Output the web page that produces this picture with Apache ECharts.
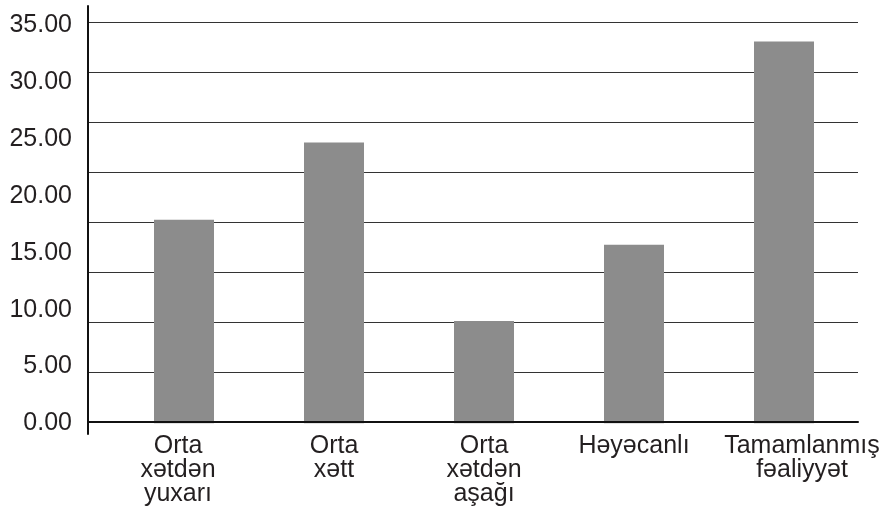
<!DOCTYPE html>
<html>
<head>
<meta charset="utf-8">
<script src="https://cdn.jsdelivr.net/npm/echarts@6/dist/echarts.min.js"></script>
<style>
html,body{margin:0;padding:0;background:#fff;}
#chart{width:889px;height:509px;}
</style>
</head>
<body>
<div id="chart"></div>
<script>
var categories = ['Orta\nxətdən\nyuxarı', 'Orta\nxətt', 'Orta\nxətdən\naşağı', 'Həyəcanlı', 'Tamamlanmış\nfəaliyyət'];
var values = [17.9, 24.7, 9.0, 15.7, 33.6];
var yMin = 0, yMax = 35, yStep = 5;
var gridLineMax = 40;

// label nudges (styling only)
var labelPadding = [[0, 12, 0, 0], [0, 0, 0, 0], [0, 0, 0, 0], [0, 0, 0, 0], [0, 0, 0, 36]];

var textColor = '#231f20';
var font = 'Liberation Sans, Arial, sans-serif';
var xData = categories.map(function (c, i) {
  return {value: c, textStyle: {padding: labelPadding[i]}};
});

var chart = echarts.init(document.getElementById('chart'), null, {renderer: 'canvas'});
chart.setOption({
  animation: false,
  backgroundColor: '#ffffff',
  grid: [
    {left: 109, right: 30, top: 25.5, bottom: 85.7},
    {left: 88, right: 31, top: 22.5, bottom: 87.3},
    {left: 88, right: 800, top: 6, bottom: 75}
  ],
  xAxis: [
    {
      type: 'category', gridIndex: 0, data: xData,
      axisLine: {show: false}, axisTick: {show: false},
      axisLabel: {color: textColor, fontFamily: font, fontSize: 25, lineHeight: 24, margin: 11, interval: 0}
    },
    {
      type: 'value', gridIndex: 1, min: 0, max: 1, z: 5,
      axisLine: {show: true, onZero: false, lineStyle: {color: '#111', width: 2}},
      axisTick: {show: false}, axisLabel: {show: false}, splitLine: {show: false}
    },
    {type: 'value', gridIndex: 2, show: false}
  ],
  yAxis: [
    {
      type: 'value', gridIndex: 0, min: yMin, max: yMax, interval: yStep, offset: 21,
      axisLine: {show: false}, axisTick: {show: false}, splitLine: {show: false},
      axisLabel: {color: textColor, fontFamily: font, fontSize: 25, margin: 16,
        formatter: function (v) { return v.toFixed(2); }}
    },
    {
      type: 'value', gridIndex: 1, min: yMin, max: gridLineMax, interval: yStep,
      axisLine: {show: false}, axisTick: {show: false}, axisLabel: {show: false},
      splitLine: {show: true, lineStyle: {color: '#333', width: 1}}
    },
    {
      type: 'value', gridIndex: 2, min: 0, max: 1,
      axisLine: {show: true, lineStyle: {color: '#111', width: 2}},
      axisTick: {show: false}, axisLabel: {show: false}, splitLine: {show: false}
    }
  ],
  series: [
    {
      type: 'bar', xAxisIndex: 0, yAxisIndex: 0, data: values,
      barWidth: 60, itemStyle: {color: '#8c8c8c'}, z: 3
    }
  ]
});
</script>
</body>
</html>
